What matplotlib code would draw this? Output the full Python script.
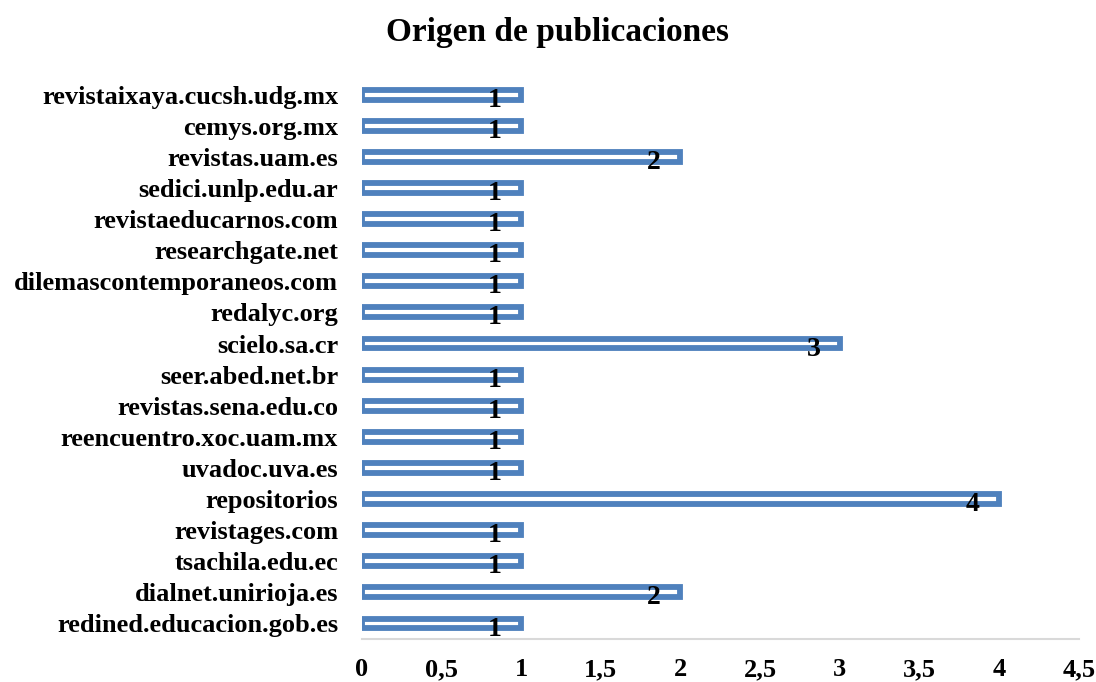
import matplotlib.pyplot as plt
import numpy as np

# data (bottom to top as in the chart)
sitios = ["redined.educacion.gob.es", "dialnet.unirioja.es", "tsachila.edu.ec",
          "revistages.com", "repositorios", "uvadoc.uva.es", "reencuentro.xoc.uam.mx",
          "revistas.sena.edu.co", "seer.abed.net.br", "scielo.sa.cr", "redalyc.org",
          "dilemascontemporaneos.com", "researchgate.net", "revistaeducarnos.com",
          "sedici.unlp.edu.ar", "revistas.uam.es", "cemys.org.mx", "revistaixaya.cucsh.udg.mx"]
cantidad = [1, 2, 1, 1, 4, 1, 1, 1, 1, 3, 1, 1, 1, 1, 1, 2, 1, 1]
xticks = [0, 0.5, 1, 1.5, 2, 2.5, 3, 3.5, 4, 4.5]

plt.rcParams['font.family'] = ['Liberation Serif', 'DejaVu Serif']
plt.rcParams['font.weight'] = 'bold'

fig = plt.figure(figsize=(10.96, 6.82), dpi=100)
ax = fig.add_axes([0.330, 0.063, 0.6545, 0.821])

y = np.arange(len(sitios))
ax.barh(y, cantidad, height=0.32, color='white', edgecolor='#4F81BD', linewidth=4.2)

for yi, v in zip(y, cantidad):
    ax.annotate(str(v), (v, yi), xytext=(-19, -4), textcoords='offset points',
                ha='center', va='center', fontsize=20, fontweight='bold')

ax.set_xlim(0, 4.5)
ax.set_ylim(-0.5, len(sitios) - 0.5)
ax.set_yticks(y)
ax.set_yticklabels(sitios, fontsize=19, fontweight='bold')
ax.set_xticks(xticks)
ax.set_xticklabels([str(t).replace('.', ',') for t in xticks], fontsize=19, fontweight='bold')
ax.tick_params(length=0)
ax.tick_params(axis='y', pad=17)
ax.tick_params(axis='x', pad=14)

for s in ['top', 'right', 'left']:
    ax.spines[s].set_visible(False)
ax.spines['bottom'].set_color('#D9D9D9')
ax.spines['bottom'].set_linewidth(1.5)

fig.suptitle('Origen de publicaciones', x=0.509, y=0.975, fontsize=24, fontweight='bold')

plt.savefig('out.png', dpi=100)
